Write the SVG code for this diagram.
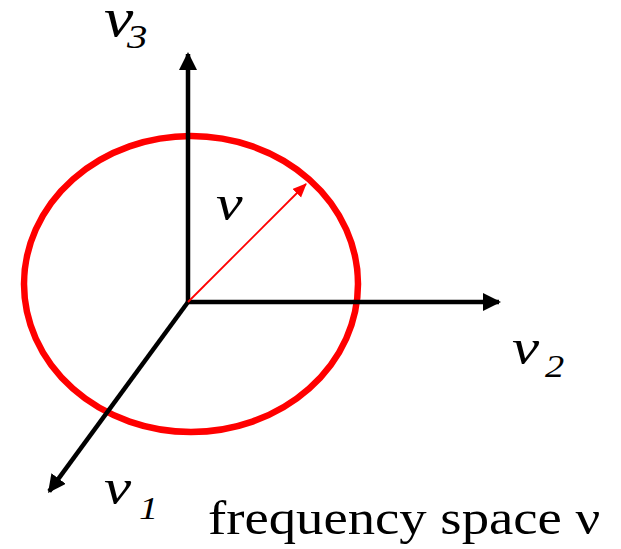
<svg xmlns="http://www.w3.org/2000/svg" width="621" height="549" viewBox="0 0 621 549">
<defs>
<marker id="blk" markerUnits="userSpaceOnUse" markerWidth="20" markerHeight="20" refX="16" refY="9" orient="auto">
<path d="M0,0 L18,9 L0,18 z" fill="#000"/>
</marker>
<marker id="red" markerUnits="userSpaceOnUse" markerWidth="16" markerHeight="14" refX="13" refY="6" orient="auto">
<path d="M0,0 L14,6 L0,12 z" fill="#f00"/>
</marker>
<style>
.ax{stroke:#000;stroke-width:4.5;fill:none}
.lbl{font-family:"Liberation Serif","Times New Roman",serif;fill:#000}
.it{font-style:italic}
</style>
</defs>
<g id="sphere">
<ellipse cx="191" cy="284" rx="167" ry="148" fill="none" stroke="#f00" stroke-width="6.5"/>
</g>
<g id="connectors">
<line class="ax" x1="188" y1="302" x2="188" y2="54" marker-end="url(#blk)"/>
<line class="ax" x1="188" y1="302" x2="499" y2="302" marker-end="url(#blk)"/>
<line class="ax" x1="188" y1="302" x2="49.2" y2="491.4" marker-end="url(#blk)"/>
<line x1="188" y1="302" x2="306" y2="184" stroke="#f00" stroke-width="1.8" marker-end="url(#red)"/>
</g>
<g id="labels">
<text class="lbl it" x="0" y="0" font-size="55" transform="translate(104,36) scale(1.2,1)">ν</text>
<text class="lbl it" x="0" y="0" font-size="34" transform="translate(127,48) scale(1.2,1)">3</text>
<text class="lbl it" x="0" y="0" font-size="50" transform="translate(216,220) scale(1.2,1)">ν</text>
<text class="lbl it" x="0" y="0" font-size="51" transform="translate(512,364) scale(1.2,1)">ν</text>
<text class="lbl it" x="0" y="0" font-size="32" transform="translate(545,377) scale(1.2,1)">2</text>
<text class="lbl it" x="0" y="0" font-size="51" transform="translate(104,504) scale(1.2,1)">ν</text>
<text class="lbl it" x="0" y="0" font-size="32" transform="translate(139,519) scale(1.2,1)">1</text>
<text class="lbl" x="0" y="0" font-size="48" transform="translate(208,534) scale(1.14,1)">frequency space ν</text>
</g>
</svg>
